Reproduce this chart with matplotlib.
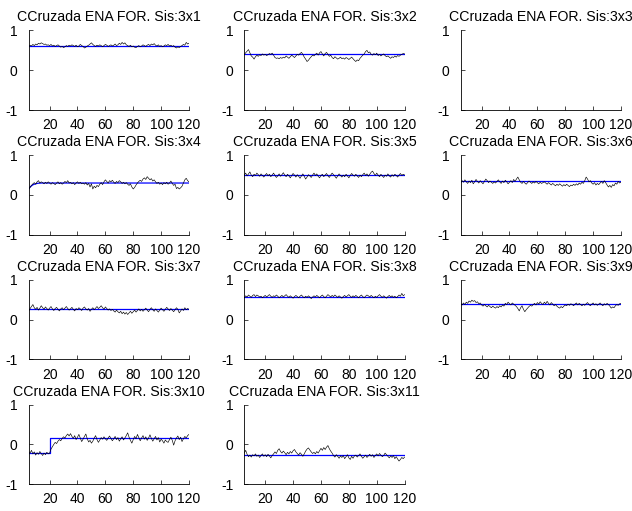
import matplotlib
matplotlib.use("Agg")
import matplotlib.pyplot as plt
import numpy as np

plt.rcParams["font.family"] = ["Liberation Sans", "DejaVu Sans"]
plt.rcParams["axes.unicode_minus"] = False

# sample index shared by every series
x = np.arange(5, 121)

titles = ["CCruzada ENA FOR. Sis:3x%d" % k for k in range(1, 12)]

# cross-correlation traces (black)
s1 = [0.60,0.63,0.61,0.65,0.62,0.66,0.64,0.68,0.66,0.69,
      0.67,0.65,0.66,0.63,0.64,0.62,0.65,0.61,0.63,0.60,
      0.62,0.64,0.61,0.58,0.60,0.57,0.59,0.62,0.60,0.63,
      0.61,0.64,0.62,0.60,0.63,0.59,0.61,0.65,0.62,0.60,
      0.56,0.58,0.61,0.63,0.66,0.69,0.65,0.62,0.60,0.63,
      0.61,0.64,0.62,0.59,0.62,0.65,0.63,0.60,0.62,0.64,
      0.61,0.63,0.66,0.62,0.64,0.68,0.65,0.70,0.66,0.69,
      0.64,0.62,0.60,0.63,0.59,0.61,0.58,0.57,0.60,0.62,
      0.59,0.61,0.64,0.62,0.60,0.63,0.65,0.62,0.66,0.64,
      0.67,0.63,0.61,0.64,0.60,0.62,0.59,0.61,0.64,0.62,
      0.65,0.61,0.63,0.60,0.62,0.58,0.56,0.59,0.57,0.60,
      0.62,0.65,0.63,0.70,0.66,0.68]
s2 = [0.40,0.44,0.48,0.52,0.44,0.36,0.33,0.28,0.34,0.38,
      0.35,0.39,0.37,0.41,0.38,0.40,0.37,0.39,0.42,0.40,
      0.43,0.38,0.32,0.30,0.31,0.29,0.32,0.30,0.33,0.31,
      0.36,0.33,0.30,0.34,0.38,0.35,0.32,0.36,0.40,0.38,
      0.42,0.45,0.40,0.33,0.28,0.22,0.25,0.30,0.34,0.38,
      0.36,0.40,0.43,0.38,0.44,0.47,0.41,0.36,0.42,0.45,
      0.40,0.35,0.38,0.32,0.29,0.34,0.31,0.28,0.30,0.33,
      0.29,0.31,0.28,0.32,0.30,0.27,0.30,0.33,0.29,0.25,
      0.22,0.26,0.24,0.30,0.34,0.38,0.41,0.47,0.50,0.44,
      0.46,0.40,0.38,0.42,0.39,0.43,0.37,0.40,0.36,0.39,
      0.41,0.37,0.34,0.36,0.33,0.30,0.34,0.32,0.36,0.33,
      0.37,0.35,0.38,0.40,0.42,0.41]
s3 = []
s4 = [0.15,0.19,0.24,0.28,0.31,0.27,0.33,0.36,0.30,0.33,
      0.31,0.28,0.32,0.29,0.33,0.30,0.27,0.31,0.29,0.26,
      0.30,0.33,0.28,0.31,0.27,0.30,0.34,0.31,0.36,0.30,
      0.32,0.28,0.31,0.26,0.30,0.33,0.29,0.32,0.28,0.30,
      0.27,0.31,0.25,0.29,0.20,0.28,0.15,0.22,0.18,0.24,
      0.21,0.27,0.31,0.26,0.33,0.38,0.34,0.30,0.36,0.33,
      0.37,0.32,0.29,0.34,0.31,0.36,0.33,0.29,0.32,0.28,
      0.31,0.27,0.24,0.28,0.20,0.15,0.19,0.25,0.30,0.34,
      0.37,0.34,0.40,0.43,0.39,0.46,0.42,0.38,0.41,0.35,
      0.38,0.33,0.29,0.32,0.27,0.30,0.26,0.31,0.28,0.32,
      0.27,0.30,0.35,0.29,0.24,0.27,0.16,0.19,0.15,0.18,
      0.22,0.30,0.38,0.42,0.36,0.33]
s5 = [0.50,0.55,0.48,0.53,0.58,0.50,0.46,0.52,0.49,0.55,
      0.51,0.47,0.53,0.49,0.45,0.50,0.54,0.48,0.52,0.46,
      0.50,0.55,0.49,0.44,0.48,0.53,0.47,0.51,0.56,0.50,
      0.46,0.52,0.48,0.43,0.49,0.54,0.50,0.45,0.51,0.47,
      0.42,0.48,0.53,0.47,0.40,0.45,0.51,0.48,0.44,0.50,
      0.55,0.49,0.53,0.47,0.43,0.49,0.52,0.46,0.50,0.54,
      0.48,0.44,0.50,0.55,0.51,0.47,0.42,0.48,0.53,0.49,
      0.45,0.50,0.46,0.52,0.48,0.43,0.49,0.54,0.50,0.47,
      0.52,0.48,0.44,0.50,0.46,0.51,0.55,0.49,0.53,0.47,
      0.52,0.57,0.60,0.54,0.49,0.55,0.50,0.46,0.52,0.48,
      0.44,0.50,0.47,0.53,0.48,0.45,0.51,0.47,0.52,0.49,
      0.45,0.50,0.54,0.49,0.52,0.50]
s6 = [0.30,0.36,0.32,0.38,0.33,0.29,0.35,0.31,0.37,0.28,
      0.33,0.39,0.34,0.30,0.36,0.32,0.28,0.34,0.40,0.36,
      0.31,0.35,0.32,0.29,0.33,0.30,0.34,0.38,0.33,0.29,
      0.35,0.31,0.37,0.33,0.28,0.32,0.36,0.31,0.39,0.34,
      0.40,0.45,0.38,0.32,0.29,0.34,0.30,0.27,0.31,0.35,
      0.32,0.29,0.33,0.30,0.34,0.31,0.28,0.32,0.29,0.31,
      0.33,0.30,0.27,0.31,0.28,0.25,0.29,0.26,0.23,0.27,
      0.24,0.28,0.25,0.22,0.26,0.23,0.27,0.24,0.21,0.25,
      0.23,0.27,0.24,0.28,0.25,0.30,0.27,0.32,0.29,0.36,
      0.45,0.40,0.33,0.36,0.30,0.27,0.31,0.25,0.29,0.26,
      0.30,0.34,0.29,0.36,0.31,0.25,0.20,0.24,0.19,0.26,
      0.23,0.30,0.27,0.34,0.30,0.32]
s7 = [0.22,0.28,0.33,0.38,0.30,0.26,0.31,0.24,0.29,0.35,
      0.30,0.26,0.32,0.28,0.24,0.29,0.33,0.27,0.23,0.28,
      0.31,0.26,0.22,0.27,0.30,0.25,0.29,0.33,0.28,0.24,
      0.27,0.31,0.26,0.22,0.28,0.25,0.30,0.27,0.23,0.29,
      0.32,0.27,0.24,0.28,0.21,0.26,0.30,0.25,0.29,0.33,
      0.28,0.31,0.35,0.30,0.26,0.32,0.28,0.24,0.27,0.23,
      0.26,0.22,0.19,0.24,0.20,0.17,0.21,0.15,0.19,0.14,
      0.18,0.13,0.17,0.21,0.16,0.20,0.24,0.19,0.23,0.27,
      0.22,0.26,0.21,0.25,0.29,0.24,0.20,0.26,0.30,0.25,
      0.21,0.27,0.23,0.19,0.24,0.29,0.25,0.21,0.26,0.31,
      0.27,0.23,0.28,0.24,0.20,0.25,0.30,0.26,0.17,0.22,
      0.27,0.23,0.30,0.25,0.28,0.26]
s8 = [0.55,0.60,0.57,0.62,0.59,0.56,0.61,0.63,0.58,0.62,
      0.60,0.57,0.59,0.55,0.58,0.61,0.57,0.60,0.63,0.59,
      0.56,0.60,0.58,0.62,0.59,0.55,0.58,0.61,0.57,0.60,
      0.63,0.59,0.56,0.60,0.57,0.54,0.58,0.61,0.58,0.55,
      0.59,0.62,0.58,0.55,0.59,0.56,0.60,0.57,0.53,0.57,
      0.60,0.57,0.61,0.58,0.55,0.59,0.62,0.58,0.55,0.59,
      0.63,0.60,0.57,0.61,0.58,0.62,0.59,0.56,0.60,0.57,
      0.54,0.58,0.61,0.57,0.60,0.63,0.59,0.56,0.60,0.57,
      0.61,0.58,0.55,0.59,0.62,0.58,0.55,0.59,0.62,0.60,
      0.57,0.61,0.58,0.55,0.59,0.56,0.60,0.63,0.59,0.56,
      0.60,0.57,0.54,0.58,0.61,0.57,0.60,0.56,0.59,0.55,
      0.58,0.62,0.59,0.66,0.60,0.63]
s9 = [0.40,0.37,0.42,0.38,0.44,0.41,0.47,0.44,0.49,0.46,
      0.48,0.43,0.45,0.40,0.42,0.37,0.34,0.38,0.35,0.32,
      0.36,0.33,0.30,0.34,0.31,0.29,0.33,0.30,0.35,0.32,
      0.37,0.34,0.41,0.38,0.44,0.40,0.37,0.42,0.39,0.36,
      0.33,0.28,0.22,0.30,0.35,0.26,0.20,0.25,0.29,0.33,
      0.36,0.34,0.38,0.41,0.37,0.43,0.39,0.45,0.41,0.38,
      0.44,0.40,0.46,0.41,0.37,0.43,0.39,0.35,0.38,0.34,
      0.31,0.29,0.33,0.30,0.34,0.37,0.35,0.39,0.36,0.40,
      0.38,0.35,0.39,0.42,0.37,0.41,0.38,0.35,0.39,0.36,
      0.40,0.43,0.38,0.35,0.39,0.42,0.37,0.40,0.36,0.39,
      0.42,0.38,0.35,0.40,0.37,0.41,0.38,0.34,0.29,0.32,
      0.30,0.35,0.38,0.36,0.40,0.41]
s10 = [-0.18,-0.22,-0.15,-0.24,-0.19,-0.27,-0.21,-0.25,-0.18,-0.23,
       -0.28,-0.22,-0.26,-0.20,-0.24,-0.22,-0.12,-0.06,0.00,0.05,
       0.02,0.08,0.12,0.09,0.15,0.19,0.16,0.22,0.26,0.21,
       0.27,0.20,0.15,0.22,0.12,0.18,0.25,0.16,0.07,0.13,
       0.20,0.26,0.14,0.06,0.10,0.03,0.08,0.16,0.22,0.12,
       0.05,0.11,0.17,0.13,0.19,0.14,0.10,0.16,0.21,0.15,
       0.09,0.14,0.20,0.12,0.17,0.08,0.14,0.19,0.11,0.16,
       0.22,0.29,0.18,0.10,0.03,0.12,0.20,0.14,0.25,0.17,
       0.09,0.16,0.22,0.13,0.19,0.10,0.16,0.24,0.15,0.08,
       0.14,0.20,0.11,0.17,0.06,0.13,0.09,0.03,0.11,0.07,
       0.05,0.12,0.18,0.10,-0.02,0.09,0.16,0.21,0.12,0.18,
       0.07,0.14,0.20,0.16,0.22,0.25]
s11 = [-0.22,-0.15,-0.25,-0.31,-0.27,-0.32,-0.26,-0.29,-0.24,-0.30,
       -0.27,-0.33,-0.28,-0.24,-0.30,-0.26,-0.31,-0.25,-0.29,-0.34,
       -0.28,-0.24,-0.19,-0.23,-0.15,-0.11,-0.18,-0.22,-0.17,-0.21,
       -0.26,-0.20,-0.24,-0.18,-0.22,-0.16,-0.13,-0.19,-0.23,-0.27,
       -0.21,-0.25,-0.30,-0.24,-0.17,-0.12,-0.09,-0.14,-0.19,-0.23,
       -0.20,-0.24,-0.18,-0.22,-0.16,-0.10,-0.15,-0.08,-0.13,-0.07,
       -0.03,-0.11,-0.17,-0.22,-0.28,-0.32,-0.26,-0.30,-0.35,-0.29,
       -0.33,-0.28,-0.36,-0.31,-0.26,-0.34,-0.38,-0.30,-0.35,-0.29,
       -0.27,-0.32,-0.28,-0.24,-0.30,-0.35,-0.31,-0.27,-0.33,-0.29,
       -0.25,-0.30,-0.26,-0.33,-0.28,-0.24,-0.29,-0.23,-0.27,-0.31,
       -0.28,-0.22,-0.26,-0.30,-0.34,-0.29,-0.33,-0.28,-0.36,-0.31,
       -0.37,-0.42,-0.38,-0.33,-0.36,-0.32]
traces = [s1, s2, s3, s4, s5, s6, s7, s8, s9, s10, s11]

# fitted level (blue): breakpoints x / y for each panel
fit_x = [[5, 120], [5, 120], [], [5, 6, 7, 8, 9, 10, 11, 12, 14, 120],
         [5, 120], [5, 120], [5, 120], [5, 120], [5, 120],
         [5, 20, 20, 120], [5, 120]]
fit_y = [[0.62, 0.62], [0.40, 0.40], [], [0.15, 0.20, 0.23, 0.255, 0.27, 0.28, 0.29, 0.295, 0.30, 0.30],
         [0.50, 0.50], [0.345, 0.345], [0.27, 0.27], [0.57, 0.57], [0.40, 0.40],
         [-0.21, -0.21, 0.15, 0.15], [-0.28, -0.28]]

xticks = [20, 40, 60, 80, 100, 120]
yticks = [-1, 0, 1]

W, H = 632, 511
fig = plt.figure(figsize=(W / 100, H / 100), dpi=100)

col_left = [28.7, 244.3, 460.7]
row_top = [30.5, 155.2, 279.9, 404.6]
ax_w, ax_h = 160.3, 79.5

for i in range(11):
    r, c = divmod(i, 3)
    left = col_left[c] / W
    bottom = 1 - (row_top[r] + ax_h) / H
    ax = fig.add_axes([left, bottom, ax_w / W, ax_h / H])
    if fit_x[i]:
        ax.plot(fit_x[i], fit_y[i], color=(0, 0, 1), lw=0.9)
    if traces[i]:
        ax.plot(x, traces[i], color="black", lw=0.45)
    ax.set_xlim(5, 120)
    ax.set_ylim(-1, 1)
    ax.set_xticks(xticks)
    ax.set_yticks(yticks)
    ax.tick_params(direction="in", length=3, width=0.5, labelsize=10,
                   top=False, right=False)
    ax.tick_params(axis="y", pad=8)
    ax.tick_params(axis="x", pad=6)
    for side in ("top", "right"):
        ax.spines[side].set_visible(False)
    for side in ("left", "bottom"):
        ax.spines[side].set_linewidth(0.6)
    ax.set_title(titles[i], fontsize=10.2, pad=6.5)

fig.savefig("out.png", dpi=100)
